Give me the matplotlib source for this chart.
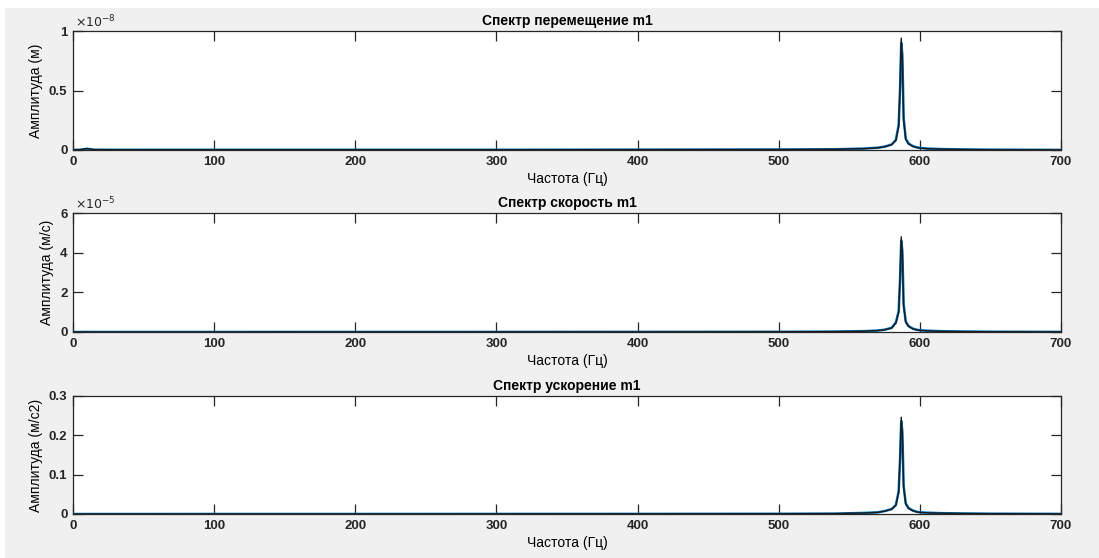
import numpy as np
import matplotlib.pyplot as plt
from matplotlib.ticker import FuncFormatter
from matplotlib.patches import Rectangle

plt.rcParams['font.family'] = ['Liberation Sans', 'DejaVu Sans']

# Frequency points (Hz)
freq = [0, 5, 10, 15, 50, 100, 200, 300, 400, 500, 540, 560, 570, 575, 580,
        583, 585, 586, 586.8, 587.6, 588.5, 590, 592, 595, 598, 600, 605,
        615, 630, 650, 700]

# Displacement spectrum of m1, units of 1e-8 m
disp_fft = [0.001, 0.003, 0.012, 0.003, 0.002, 0.002, 0.002, 0.002, 0.003,
            0.004, 0.006, 0.011, 0.018, 0.027, 0.045, 0.08, 0.2, 0.55, 0.94,
            0.75, 0.25, 0.09, 0.05, 0.03, 0.02, 0.016, 0.011, 0.007, 0.004,
            0.002, 0.001]
disp_model = [0.001, 0.002, 0.01, 0.002, 0.002, 0.002, 0.002, 0.002, 0.003,
              0.004, 0.006, 0.012, 0.019, 0.028, 0.046, 0.085, 0.21, 0.52,
              0.90, 0.80, 0.27, 0.095, 0.055, 0.033, 0.022, 0.018, 0.012,
              0.008, 0.005, 0.003, 0.001]

# Velocity spectrum of m1, units of 1e-5 m/s
vel_fft = [0.0, 0.001, 0.004, 0.001, 0.002, 0.002, 0.003, 0.004, 0.006,
           0.01, 0.02, 0.04, 0.07, 0.11, 0.2, 0.45, 1.0, 2.8, 4.8, 3.9, 1.3,
           0.5, 0.28, 0.16, 0.1, 0.08, 0.06, 0.035, 0.02, 0.012, 0.005]
vel_model = [0.0, 0.001, 0.003, 0.001, 0.002, 0.002, 0.003, 0.004, 0.006,
             0.01, 0.02, 0.042, 0.072, 0.115, 0.21, 0.48, 1.05, 2.7, 4.6,
             4.1, 1.4, 0.52, 0.3, 0.17, 0.11, 0.09, 0.065, 0.04, 0.024,
             0.014, 0.006]

# Acceleration spectrum of m1, m/s^2
acc_fft = [0.0, 0.0, 0.0, 0.0, 0.0, 0.0001, 0.0001, 0.0002, 0.0003, 0.0006,
           0.001, 0.0025, 0.004, 0.007, 0.012, 0.022, 0.055, 0.15, 0.246,
           0.2, 0.068, 0.025, 0.014, 0.008, 0.005, 0.004, 0.003, 0.002,
           0.0012, 0.0007, 0.0003]
acc_model = [0.0, 0.0, 0.0, 0.0, 0.0, 0.0001, 0.0001, 0.0002, 0.0003, 0.0006,
             0.001, 0.0027, 0.0042, 0.0075, 0.0125, 0.023, 0.058, 0.14, 0.236,
             0.21, 0.072, 0.027, 0.015, 0.009, 0.0055, 0.0045, 0.0033,
             0.0022, 0.0014, 0.0008, 0.0003]

disp_scale = 1e-8
vel_scale = 1e-5

titles = ['Спектр перемещение m1', 'Спектр скорость m1', 'Спектр ускорение m1']
ylabels = ['Амплитуда (м)', 'Амплитуда (м/с)', 'Амплитуда (м/с2)']
ylims = [1e-8, 6e-5, 0.3]
yticks = [[0, 0.5e-8, 1e-8], [0, 2e-5, 4e-5, 6e-5], [0, 0.1, 0.2, 0.3]]
scales = [disp_scale, vel_scale, 1.0]
exponents = ['-8', '-5', None]
xticks = [0, 100, 200, 300, 400, 500, 600, 700]

series = [
    (np.array(disp_fft) * disp_scale, np.array(disp_model) * disp_scale),
    (np.array(vel_fft) * vel_scale, np.array(vel_model) * vel_scale),
    (np.array(acc_fft), np.array(acc_model)),
]

W, H = 1099, 558
fig = plt.figure(figsize=(W / 100, H / 100), dpi=100)
fig.patch.set_facecolor('white')
fig.patches.append(Rectangle((5 / W, 0), 1, 1 - 8 / H, transform=fig.transFigure,
                             facecolor='#f0f0f0', edgecolor='none', zorder=-10))

tops = [31, 213, 396]
bottoms = [150, 332, 514]
left, right = 73, 1061

for i in range(3):
    ax = fig.add_axes([left / W, 1 - bottoms[i] / H,
                       (right - left) / W, (bottoms[i] - tops[i]) / H])
    ax.set_facecolor('white')
    fft_vals, model_vals = series[i]
    ax.plot(freq, model_vals, color='#0072BD', lw=1.8, zorder=3)
    ax.plot(freq, fft_vals, color='#1a1a1a', lw=1.0, zorder=4)
    ax.set_xlim(0, 700)
    ax.set_ylim(0, ylims[i])
    ax.set_xticks(xticks)
    ax.set_yticks(yticks[i])
    s = scales[i]
    ax.yaxis.set_major_formatter(FuncFormatter(lambda v, p, s=s: f'{v / s:g}'))
    if exponents[i]:
        ax.text(0.002, 1.01, r'$\times10^{' + exponents[i] + '}$',
                transform=ax.transAxes, fontsize=9, ha='left', va='bottom',
                color='#262626')
    ax.tick_params(direction='in', length=7, width=0.9, top=True, right=True,
                   labelsize=9.5, pad=4, colors='#262626')
    for lab in ax.get_xticklabels() + ax.get_yticklabels():
        lab.set_fontweight('bold')
    for sp in ax.spines.values():
        sp.set_color('#262626')
        sp.set_linewidth(0.9)
    ax.set_title(titles[i], fontsize=10, fontweight='bold', pad=4)
    ax.set_xlabel('Частота (Гц)', fontsize=10, labelpad=3)
    ax.set_ylabel(ylabels[i], fontsize=10, labelpad=4)

fig.savefig('out.png', dpi=100, facecolor=fig.get_facecolor())
